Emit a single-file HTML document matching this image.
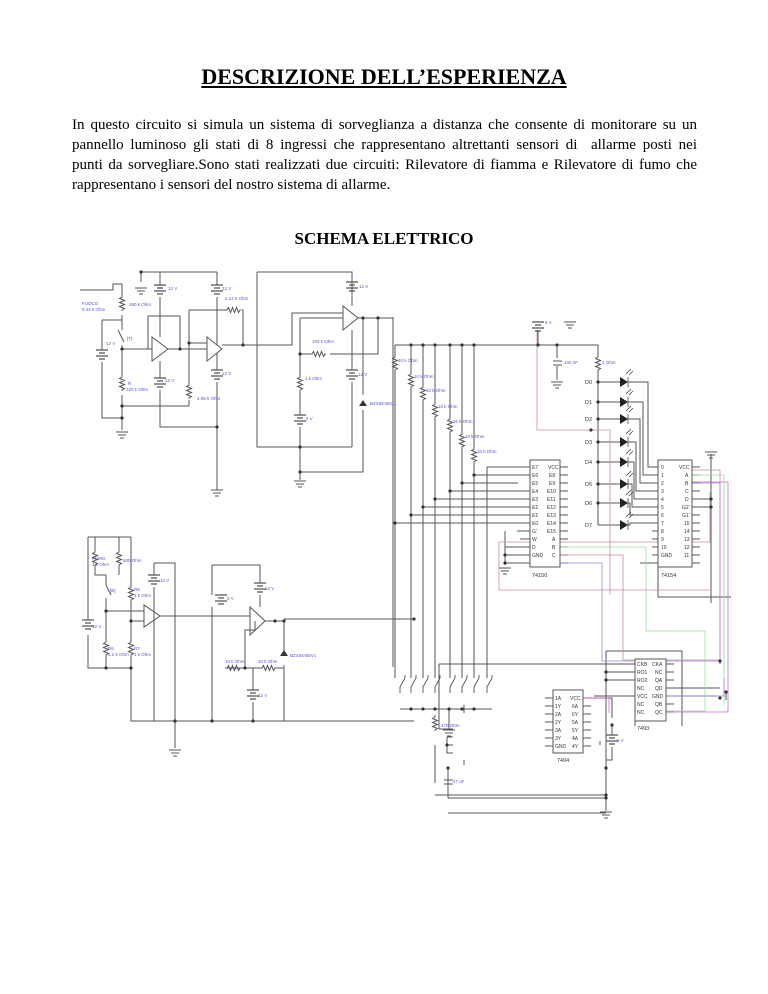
<!DOCTYPE html>
<html><head><meta charset="utf-8"><style>
body{margin:0;background:#fff;width:768px;height:994px;position:relative;overflow:hidden}
h1{position:absolute;left:0;width:768px;top:64px;margin:0;text-align:center;font:bold 22px "Liberation Serif",serif;text-decoration:underline}
.p{position:absolute;left:72px;width:625px;top:115px;margin:0;font:15px/20px "Liberation Serif",serif}
.p span{display:block;text-align:justify;text-align-last:justify;white-space:nowrap}
.p span.l{text-align-last:left}
h2{position:absolute;left:0;width:768px;top:229px;margin:0;text-align:center;font:bold 17px "Liberation Serif",serif}
svg{position:absolute;left:0;top:0}
</style></head><body>
<h1>DESCRIZIONE DELL’ESPERIENZA</h1>
<div class="p"><span>In questo circuito si simula un sistema di sorveglianza a distanza che consente di monitorare su un</span><span>pannello luminoso gli stati di 8 ingressi che rappresentano altrettanti sensori di&nbsp; allarme posti nei</span><span>punti da sorvegliare.Sono stati realizzati due circuiti: Rilevatore di fiamma e Rilevatore di fumo che</span><span class="l">rappresentano i sensori del nostro sistema di allarme.</span></div>
<h2>SCHEMA ELETTRICO</h2>
<svg width="768" height="994" viewBox="0 0 768 994">
<defs>
<symbol id="rv" overflow="visible"><path d="M0 0v2l-2.5 1.5 5 2-5 2 5 2-5 2 5 2-2.5 1.5v1" fill="none" stroke="#555" stroke-width="1"/></symbol>
<symbol id="rh" overflow="visible"><path d="M0 0h2l1.5-2.5 2 5 2-5 2 5 2-5 2 5 1.5-2.5h1" fill="none" stroke="#555" stroke-width="1"/></symbol>
<symbol id="bt" overflow="visible"><path d="M-6 0h12M-3 3h6M-6 6h12M-3 9h6" stroke="#555" stroke-width="1.2"/></symbol>
<symbol id="gd" overflow="visible"><path d="M-6 0h12M-4 3h8M-2 6h4" stroke="#555" stroke-width="1"/></symbol>
<symbol id="led" overflow="visible"><path d="M0 -5v10l8-5z" fill="#222"/><path d="M8 -5v10M6 -8l5-5M9 -7l4-4" stroke="#444" stroke-width="0.8"/></symbol>
<symbol id="sw" overflow="visible"><path d="M0 0v-6l5-9M5 -18v3" stroke="#555" fill="none" stroke-width="0.9"/></symbol>
</defs>
<g stroke="#555" stroke-width="1" fill="none">
<path d="M80 290h33v-6h9v11M122 315v15M118 330l6 12M122 345v30M122 395v35M102 320h20M102 320v30M102 362v56h20M122 406h67M189 310v73M189 400v6"/>
<path d="M141 272h76M141 272v10M160 272v13M160 297v40M217 272v13M217 297v48"/>
<path d="M152 337v24l16-12zM207 337v24l15-12zM343 306v24l15-12z"/>
<path d="M148 349v-33h32v33M122 349h30M168 349h39M189 343h18M160 361v17M160 390v37h57M217 353v17M217 382v108"/>
<path d="M189 310h36M242 310h1v35M222 345h70v-32h51M300 318h43M300 318v36M300 354h10M330 354h48v-36M358 318h35v-1M393 317v350"/>
<path d="M300 354v21M300 390v25M300 427v53M352 282v24M352 330v40M352 382v65M363 318v77M363 410v62h-63M257 272h95v10M257 272v175h95"/>
<path d="M395 345h203M395 345v10M395 370v308M411 345v27M411 387v291M423 345v40M423 400v278M435 345v57M435 417v261M450 345v72M450 432v246M462 345v87M462 447v231M474 345v102M474 462v216M487 467v211"/>
<path d="M487 467h43M474 475h56M462 483h56M450 491h80M435 499h95M423 507h107M411 515h119M395 523h135"/>
<path d="M517 531h13M505 531v34M505 547h25M505 555h25M505 563h25"/>
<path d="M538 330v15M557 345v13M557 366v14M598 345v10M598 370v155"/>
<path d="M598 382h22M598 402h22M598 419h22M598 442h22M598 462h22M598 484h22M598 503h22M598 525h22"/>
<path d="M628 382h20v85h10M628 402h15v73h15M628 419h12v64h18M628 442h8v49h22M628 462h6v37h24M628 484h4v23h26M628 503h2v12h28M628 525h2v-2h28"/>
<path d="M652 531h6M652 539h6M652 547h6M652 555h6M640 563h18v34h73"/>
<path d="M692 467h8M692 475h8M692 483h8M692 491h8M692 499h8M692 507h8M692 515h8M692 523h8M692 531h8M692 539h8M692 547h8M692 555h8M692 563h8"/>
<path d="M711 454v149M692 499h19M692 507h19"/>
<path d="M560 467h8M560 475h8M560 483h8M560 491h8M560 499h8M560 507h8M560 515h8M560 523h8M560 531h8M560 539h8M560 547h8M560 555h8M560 563h8M520 467h10M520 539h10"/>
<path d="M88 537h43M95 537v13M95 565v10h11v10M119 537v13M119 565v10M106 585l5 10M106 598v42M106 655v13M88 537v83M88 635v33h43M131 537v48M131 600v40M131 655v66h153"/>
<path d="M144 605v22l16-11zM250 607v28l15-14z"/>
<path d="M106 611h38M131 621h13M160 616h90M154 563h21v158M154 563v12M154 587v134M212 565h48v18M212 565v30M212 607v114M260 595v12M255 621v9h-10v38M225 668h20M238 668h22M275 668h9M253 668v22M253 702v19M265 621h19v32M284 665v56h130M175 721v27"/>
<path d="M284 619h130"/>
<path d="M395 660v18M400 709h92M449 709v20"/>
<path d="M606 651h76v75M606 651v160M606 664h29M606 672h29M606 680h29M594 696h41v30M439 664h196M439 664v65M439 729h14M447 737h6M447 737v16h6M447 745h6M435 745v38M435 795h171M453 753h-5M464 713v-8M464 765v-5M448 768v30M448 798h158M448 813h158M587 698h25v20M612 725v10M612 747v13h-6M600 745v-4"/>
<path d="M666 664h8M666 672h8M666 680h8M666 688h8M666 696h8M666 704h8M666 712h8M583 698h8M583 706h8M583 714h8M583 722h8M583 730h8M583 738h8M583 746h8M545 698h8M545 706h8M545 714h8M545 722h8M545 730h8M545 738h8M545 746h8"/>
<path d="M666 688h54M666 696h52"/>
<path d="M720 664v-2M726 700v-8"/>
</g>
<g stroke="#c8a" stroke-width="0.8" fill="none">
<path d="M537 330v100h73v165M499 542h211v-50M560 555h63v105h97v-190h-28M499 542v48h211M591 430h-54"/>
<path d="M583 698h26v15M666 712h62v-230h-36" stroke="#c6c"/>
</g>
<g stroke="#9d9" stroke-width="0.8" fill="none"><path d="M560 547h86v84h59v80h-39M692 475h32v230"/></g>
<g stroke="#98d" stroke-width="0.8" fill="none"><path d="M560 563h42v98h118v-178h-28M666 696h58v-18"/></g>
<g stroke="#555" fill="#fff"><rect x="530" y="460" width="30" height="107"/><rect x="658" y="460" width="34" height="107"/><rect x="635" y="659" width="31" height="62"/><rect x="553" y="690" width="30" height="63"/></g>
<g fill="#333">
<use href="#rv" x="122" y="295"/><use href="#rv" x="122" y="375"/><use href="#rv" x="189" y="383"/><use href="#rh" x="225" y="310"/><use href="#rh" x="310" y="354"/><use href="#rv" x="300" y="375"/>
<use href="#rv" x="395" y="355"/><use href="#rv" x="411" y="372"/><use href="#rv" x="423" y="385"/><use href="#rv" x="435" y="402"/><use href="#rv" x="450" y="417"/><use href="#rv" x="462" y="432"/><use href="#rv" x="474" y="447"/><use href="#rv" x="598" y="355"/>
<use href="#rv" x="95" y="550"/><use href="#rv" x="119" y="550"/><use href="#rv" x="131" y="585"/><use href="#rv" x="106" y="640"/><use href="#rv" x="131" y="640"/><use href="#rh" x="225" y="668"/><use href="#rh" x="260" y="668"/><use href="#rv" x="435" y="715"/>
<use href="#bt" x="102" y="350"/><use href="#bt" x="160" y="285"/><use href="#bt" x="217" y="285"/><use href="#bt" x="160" y="378"/><use href="#bt" x="217" y="370"/><use href="#bt" x="352" y="282"/><use href="#bt" x="352" y="370"/><use href="#bt" x="300" y="415"/><use href="#bt" x="538" y="322"/>
<use href="#bt" x="88" y="620"/><use href="#bt" x="154" y="575"/><use href="#bt" x="260" y="583"/><use href="#bt" x="221" y="595"/><use href="#bt" x="253" y="690"/><use href="#bt" x="612" y="735"/>
<use href="#gd" x="141" y="288"/><use href="#gd" x="122" y="432"/><use href="#gd" x="217" y="490"/><use href="#gd" x="300" y="481"/><use href="#gd" x="570" y="322"/><use href="#gd" x="557" y="382"/><use href="#gd" x="711" y="452"/><use href="#gd" x="505" y="568"/><use href="#gd" x="175" y="750"/><use href="#gd" x="449" y="730"/><use href="#gd" x="606" y="812"/>
<use href="#led" x="620" y="382"/><use href="#led" x="620" y="402"/><use href="#led" x="620" y="419"/><use href="#led" x="620" y="442"/><use href="#led" x="620" y="462"/><use href="#led" x="620" y="484"/><use href="#led" x="620" y="503"/><use href="#led" x="620" y="525"/>
<use href="#sw" x="400" y="693"/><use href="#sw" x="411" y="693"/><use href="#sw" x="423" y="693"/><use href="#sw" x="435" y="693"/><use href="#sw" x="450" y="693"/><use href="#sw" x="462" y="693"/><use href="#sw" x="474" y="693"/><use href="#sw" x="487" y="693"/>
<path d="M359 406h8l-4-6z M280 656h8l-4-6z"/>
<path d="M553 361h9M553 365h9" stroke="#555"/><path d="M444 780h9M444 784h9" stroke="#555"/>
<g stroke="none"><circle cx="141" cy="272" r="1.6"/><circle cx="122" cy="349" r="1.6"/><circle cx="189" cy="343" r="1.6"/><circle cx="180" cy="349" r="1.6"/><circle cx="122" cy="406" r="1.6"/><circle cx="122" cy="418" r="1.6"/><circle cx="217" cy="427" r="1.6"/><circle cx="243" cy="345" r="1.6"/><circle cx="363" cy="318" r="1.6"/><circle cx="378" cy="318" r="1.6"/><circle cx="300" cy="354" r="1.6"/><circle cx="300" cy="447" r="1.6"/><circle cx="300" cy="472" r="1.6"/>
<circle cx="411" cy="345" r="1.6"/><circle cx="423" cy="345" r="1.6"/><circle cx="435" cy="345" r="1.6"/><circle cx="450" cy="345" r="1.6"/><circle cx="462" cy="345" r="1.6"/><circle cx="474" cy="345" r="1.6"/><circle cx="538" cy="345" r="1.6"/><circle cx="557" cy="345" r="1.6"/><circle cx="591" cy="430" r="1.6"/>
<circle cx="474" cy="475" r="1.6"/><circle cx="462" cy="483" r="1.6"/><circle cx="450" cy="491" r="1.6"/><circle cx="435" cy="499" r="1.6"/><circle cx="423" cy="507" r="1.6"/><circle cx="411" cy="515" r="1.6"/><circle cx="395" cy="523" r="1.6"/><circle cx="505" cy="555" r="1.6"/><circle cx="505" cy="563" r="1.6"/>
<circle cx="598" cy="382" r="1.6"/><circle cx="598" cy="402" r="1.6"/><circle cx="598" cy="419" r="1.6"/><circle cx="598" cy="442" r="1.6"/><circle cx="598" cy="462" r="1.6"/><circle cx="598" cy="484" r="1.6"/><circle cx="598" cy="503" r="1.6"/><circle cx="711" cy="499" r="1.6"/><circle cx="711" cy="507" r="1.6"/>
<circle cx="106" cy="611" r="1.6"/><circle cx="106" cy="668" r="1.6"/><circle cx="131" cy="621" r="1.6"/><circle cx="131" cy="668" r="1.6"/><circle cx="175" cy="721" r="1.6"/><circle cx="212" cy="721" r="1.6"/><circle cx="253" cy="721" r="1.6"/><circle cx="245" cy="668" r="1.6"/><circle cx="275" cy="621" r="1.6"/><circle cx="284" cy="621" r="1.6"/><circle cx="414" cy="619" r="1.6"/>
<circle cx="411" cy="709" r="1.6"/><circle cx="423" cy="709" r="1.6"/><circle cx="435" cy="709" r="1.6"/><circle cx="449" cy="709" r="1.6"/><circle cx="462" cy="709" r="1.6"/><circle cx="474" cy="709" r="1.6"/>
<circle cx="606" cy="672" r="1.6"/><circle cx="606" cy="680" r="1.6"/><circle cx="606" cy="795" r="1.6"/><circle cx="606" cy="798" r="1.6"/><circle cx="606" cy="768" r="1.6"/><circle cx="612" cy="725" r="1.6"/><circle cx="720" cy="661" r="1.6"/><circle cx="720" cy="698" r="1.6"/><circle cx="726" cy="692" r="1.6"/><circle cx="448" cy="768" r="1.6"/><circle cx="447" cy="745" r="1.6"/></g>
</g>
<g font-family="Liberation Sans,sans-serif" font-size="4.5" fill="#55c">
<text x="82" y="305">FUOCO</text><text x="82" y="311">6.22 k Ohm</text><text x="129" y="306">480 k Ohm</text><text x="106" y="345">12 V</text><text x="127" y="340">[T]</text><text x="128" y="385">R</text><text x="126" y="391">220 k Ohm</text><text x="168" y="290">12 V</text><text x="222" y="290">12 V</text><text x="165" y="382">12 V</text><text x="222" y="375">12 V</text><text x="197" y="400">4.08 k Ohm</text><text x="225" y="300">1.24 k Ohm</text><text x="312" y="343">100 k Ohm</text><text x="305" y="380">1 k Ohm</text><text x="306" y="420">5 V</text><text x="359" y="288">12 V</text><text x="358" y="376">12 V</text><text x="370" y="405">BZX55-B5V1</text>
<text x="398" y="362">10 k Ohm</text><text x="414" y="378">10 k Ohm</text><text x="426" y="392">10 k Ohm</text><text x="438" y="408">10 k Ohm</text><text x="453" y="423">10 k Ohm</text><text x="465" y="438">10 k Ohm</text><text x="477" y="453">10 k Ohm</text><text x="545" y="324">5 V</text><text x="564" y="364">100 nF</text><text x="602" y="364">1 Ohm</text>
<text x="92" y="560">FUMO</text><text x="92" y="566">1 k Ohm</text><text x="123" y="562">600 Ohm</text><text x="110" y="592">[B]</text><text x="134" y="591">R8</text><text x="134" y="597">1 k Ohm</text><text x="92" y="628">12 V</text><text x="108" y="650">R6</text><text x="108" y="656">2.2 k Ohm</text><text x="134" y="650">R7</text><text x="134" y="656">1 k Ohm</text><text x="160" y="582">12 V</text><text x="227" y="600">5 V</text><text x="265" y="590">12 V</text><text x="225" y="663">10 k Ohm</text><text x="258" y="663">10 k Ohm</text><text x="258" y="697">12 V</text><text x="290" y="657">BZX55-B5V1</text><text x="441" y="727">470 Ohm</text><text x="453" y="783">47 uF</text><text x="617" y="742">5 V</text>
</g>
<g font-family="Liberation Sans,sans-serif" font-size="5.5" fill="#333">
<text x="585" y="384">D0</text><text x="585" y="404">D1</text><text x="585" y="421">D2</text><text x="585" y="444">D3</text><text x="585" y="464">D4</text><text x="585" y="486">D5</text><text x="585" y="505">D6</text><text x="585" y="527">D7</text>
<text x="532" y="577">74150</text><text x="661" y="577">74154</text><text x="557" y="762">7404</text><text x="637" y="730">7493</text>
</g>
<g font-family="Liberation Sans,sans-serif" font-size="5" fill="#333">
<text x="532" y="469">E7</text><text x="532" y="477">E6</text><text x="532" y="485">E5</text><text x="532" y="493">E4</text><text x="532" y="501">E3</text><text x="532" y="509">E2</text><text x="532" y="517">E1</text><text x="532" y="525">E0</text><text x="532" y="533">G'</text><text x="532" y="541">W</text><text x="532" y="549">D</text><text x="532" y="557">GND</text>
<text x="548" y="469">VCC</text><text x="549" y="477">E8</text><text x="549" y="485">E9</text><text x="547" y="493">E10</text><text x="547" y="501">E11</text><text x="547" y="509">E12</text><text x="547" y="517">E13</text><text x="547" y="525">E14</text><text x="547" y="533">E15</text><text x="552" y="541">A</text><text x="552" y="549">B</text><text x="552" y="557">C</text>
<text x="661" y="469">0</text><text x="661" y="477">1</text><text x="661" y="485">2</text><text x="661" y="493">3</text><text x="661" y="501">4</text><text x="661" y="509">5</text><text x="661" y="517">6</text><text x="661" y="525">7</text><text x="661" y="533">8</text><text x="661" y="541">9</text><text x="661" y="549">10</text><text x="661" y="557">GND</text>
<text x="679" y="469">VCC</text><text x="685" y="477">A</text><text x="685" y="485">B</text><text x="685" y="493">C</text><text x="685" y="501">D</text><text x="682" y="509">G2'</text><text x="682" y="517">G1'</text><text x="684" y="525">15</text><text x="684" y="533">14</text><text x="684" y="541">13</text><text x="684" y="549">12</text><text x="684" y="557">11</text>
<text x="637" y="666">CKB</text><text x="637" y="674">RO1</text><text x="637" y="682">RO2</text><text x="637" y="690">NC</text><text x="637" y="698">VCC</text><text x="637" y="706">NC</text><text x="637" y="714">NC</text><text x="652" y="666">CKA</text><text x="655" y="674">NC</text><text x="655" y="682">QA</text><text x="655" y="690">QD</text><text x="652" y="698">GND</text><text x="655" y="706">QB</text><text x="655" y="714">QC</text>
<text x="555" y="700">1A</text><text x="555" y="708">1Y</text><text x="555" y="716">2A</text><text x="555" y="724">2Y</text><text x="555" y="732">3A</text><text x="555" y="740">3Y</text><text x="555" y="748">GND</text><text x="570" y="700">VCC</text><text x="572" y="708">6A</text><text x="572" y="716">6Y</text><text x="572" y="724">5A</text><text x="572" y="732">5Y</text><text x="572" y="740">4A</text><text x="572" y="748">4Y</text>
</g>
</svg>
</body></html>
